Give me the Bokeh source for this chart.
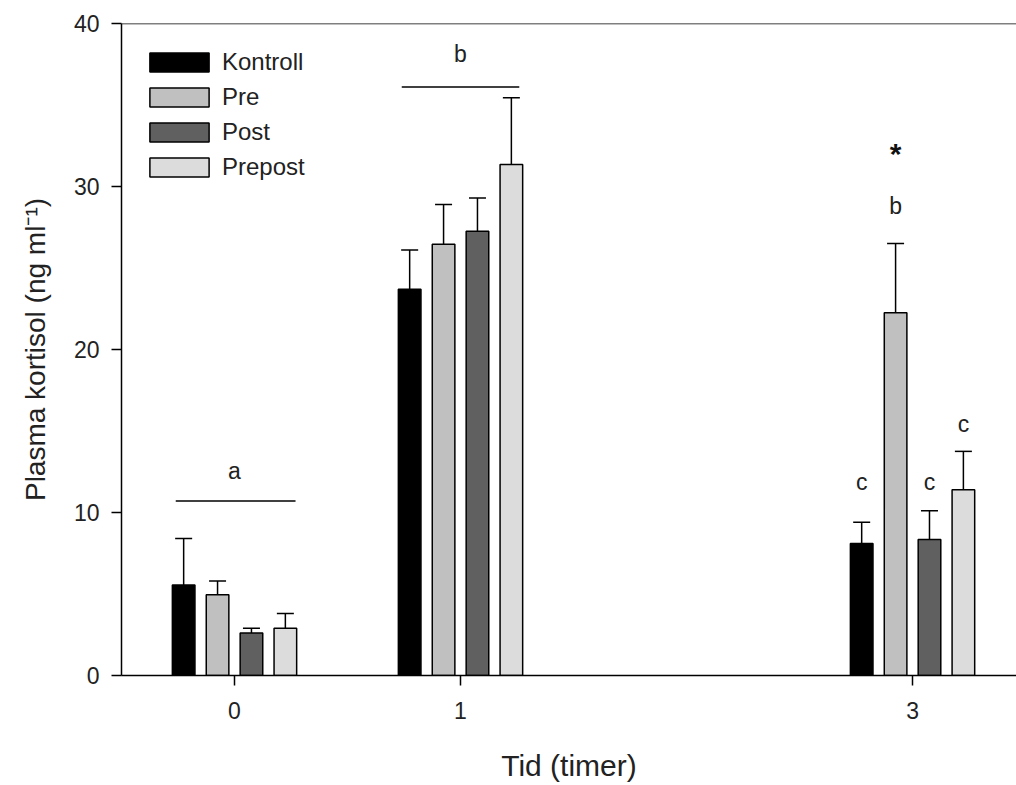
from bokeh.plotting import figure
from bokeh.models import ColumnDataSource, Whisker, TeeHead, Legend, LegendItem, FixedTicker, Span, Range1d
from bokeh.transform import dodge
from bokeh.core.properties import value
from bokeh.embed import file_html
from bokeh.resources import INLINE

# ---- data ----
times = [0, 1, 3]
tick_labels = {0: "0", 1: "1", 3: "3"}
series_names = ["Kontroll", "Pre", "Post", "Prepost"]
kontroll = [5.55, 23.7, 8.1]
kontroll_err = [2.85, 2.4, 1.3]
pre = [4.95, 26.45, 22.25]
pre_err = [0.85, 2.45, 4.25]
post = [2.6, 27.25, 8.35]
post_err = [0.3, 2.05, 1.75]
prepost = [2.9, 31.35, 11.4]
prepost_err = [0.9, 4.1, 2.35]

# significance letters
ann_x = [0.0, 1.0, 2.925, 2.775, 3.075, 3.225]
ann_y = [12.55, 38.1, 28.8, 11.9, 11.9, 15.4]
ann_text = ["a", "b", "b", "c", "c", "c"]
star_x = [2.925]
star_y = [32.0]
star_text = ["*"]
bracket_x0 = [-0.26, 0.74]
bracket_x1 = [0.27, 1.26]
bracket_y = [10.7, 36.1]

colors = ["#000000", "#c0c0c0", "#606060", "#dcdcdc"]
offsets = [-0.225, -0.075, 0.075, 0.225]
bar_w = 0.1

FONT = "Liberation Sans"

p = figure(width=1016, height=785, output_backend="svg", toolbar_location=None,
           x_range=Range1d(-0.5, 3.46), y_range=Range1d(0, 40),
           min_border_left=121, min_border_right=0, min_border_top=23, min_border_bottom=110)
p.outline_line_color = None
p.xgrid.visible = False
p.ygrid.visible = False
p.background_fill_color = "white"

vals = [kontroll, pre, post, prepost]
errs = [kontroll_err, pre_err, post_err, prepost_err]
items = []
for name, v, e, c, off in zip(series_names, vals, errs, colors, offsets):
    src = ColumnDataSource(dict(t=times, v=v, up=[a + b for a, b in zip(v, e)]))
    r = p.vbar(x=dodge("t", off, range=p.x_range), top="v", width=bar_w, bottom=0, source=src,
               fill_color=c, line_color="black", line_width=1.5)
    w = Whisker(base=dodge("t", off, range=p.x_range), lower="v", upper="up", source=src,
                line_color="black", line_width=1.5,
                upper_head=TeeHead(size=17, line_color="black", line_width=1.5), lower_head=None)
    p.add_layout(w)
    items.append(LegendItem(label=name, renderers=[r]))

legend = Legend(items=items, location=(21, 494), glyph_width=74, glyph_height=24,
                label_height=24, spacing=7, padding=0, margin=0,
                label_text_font=FONT, label_text_font_size="24px", label_text_color="#222222",
                label_standoff=6, border_line_color=None, background_fill_alpha=0)
p.add_layout(legend, "center")

# brackets
p.segment(x0=bracket_x0, x1=bracket_x1, y0=bracket_y, y1=bracket_y, line_color="black", line_width=1.5)

# letters
p.text(x=ann_x, y=ann_y, text=ann_text, text_font=value(FONT), text_font_size="23px",
       text_align="center", text_baseline="middle", text_color="#222222")
p.text(x=star_x, y=star_y, text=star_text, text_font=value(FONT), text_font_size="30px",
       text_font_style="bold", text_align="center", text_baseline="middle", text_color="#111111")

# top frame line
p.add_layout(Span(location=40, dimension="width", line_color="black", line_width=1.5))

# axes
p.xaxis.ticker = FixedTicker(ticks=times)
p.xaxis.major_label_overrides = tick_labels
p.yaxis.ticker = FixedTicker(ticks=[0, 10, 20, 30, 40])
for ax in (p.xaxis, p.yaxis):
    ax.axis_line_color = "black"
    ax.axis_line_width = 1.5
    ax.major_tick_line_color = "black"
    ax.major_tick_line_width = 1.5
    ax.major_tick_out = 10
    ax.major_tick_in = 0
    ax.minor_tick_line_color = None
    ax.major_label_text_font = FONT
    ax.major_label_text_font_size = "23px"
    ax.major_label_text_color = "#222222"
    ax.axis_label_text_font = FONT
    ax.axis_label_text_font_style = "normal"
    ax.axis_label_text_color = "#222222"
p.xaxis.axis_label_text_font_size = "30px"
p.yaxis.axis_label_text_font_size = "28px"
p.xaxis.major_label_standoff = 16
p.yaxis.major_label_standoff = 12
p.xaxis.axis_label = "Tid (timer)"
p.xaxis.axis_label_standoff = 27
p.yaxis.axis_label = "Plasma kortisol (ng ml⁻¹)"
p.yaxis.axis_label_standoff = 20

open("out.html", "w").write(file_html(p, INLINE))
